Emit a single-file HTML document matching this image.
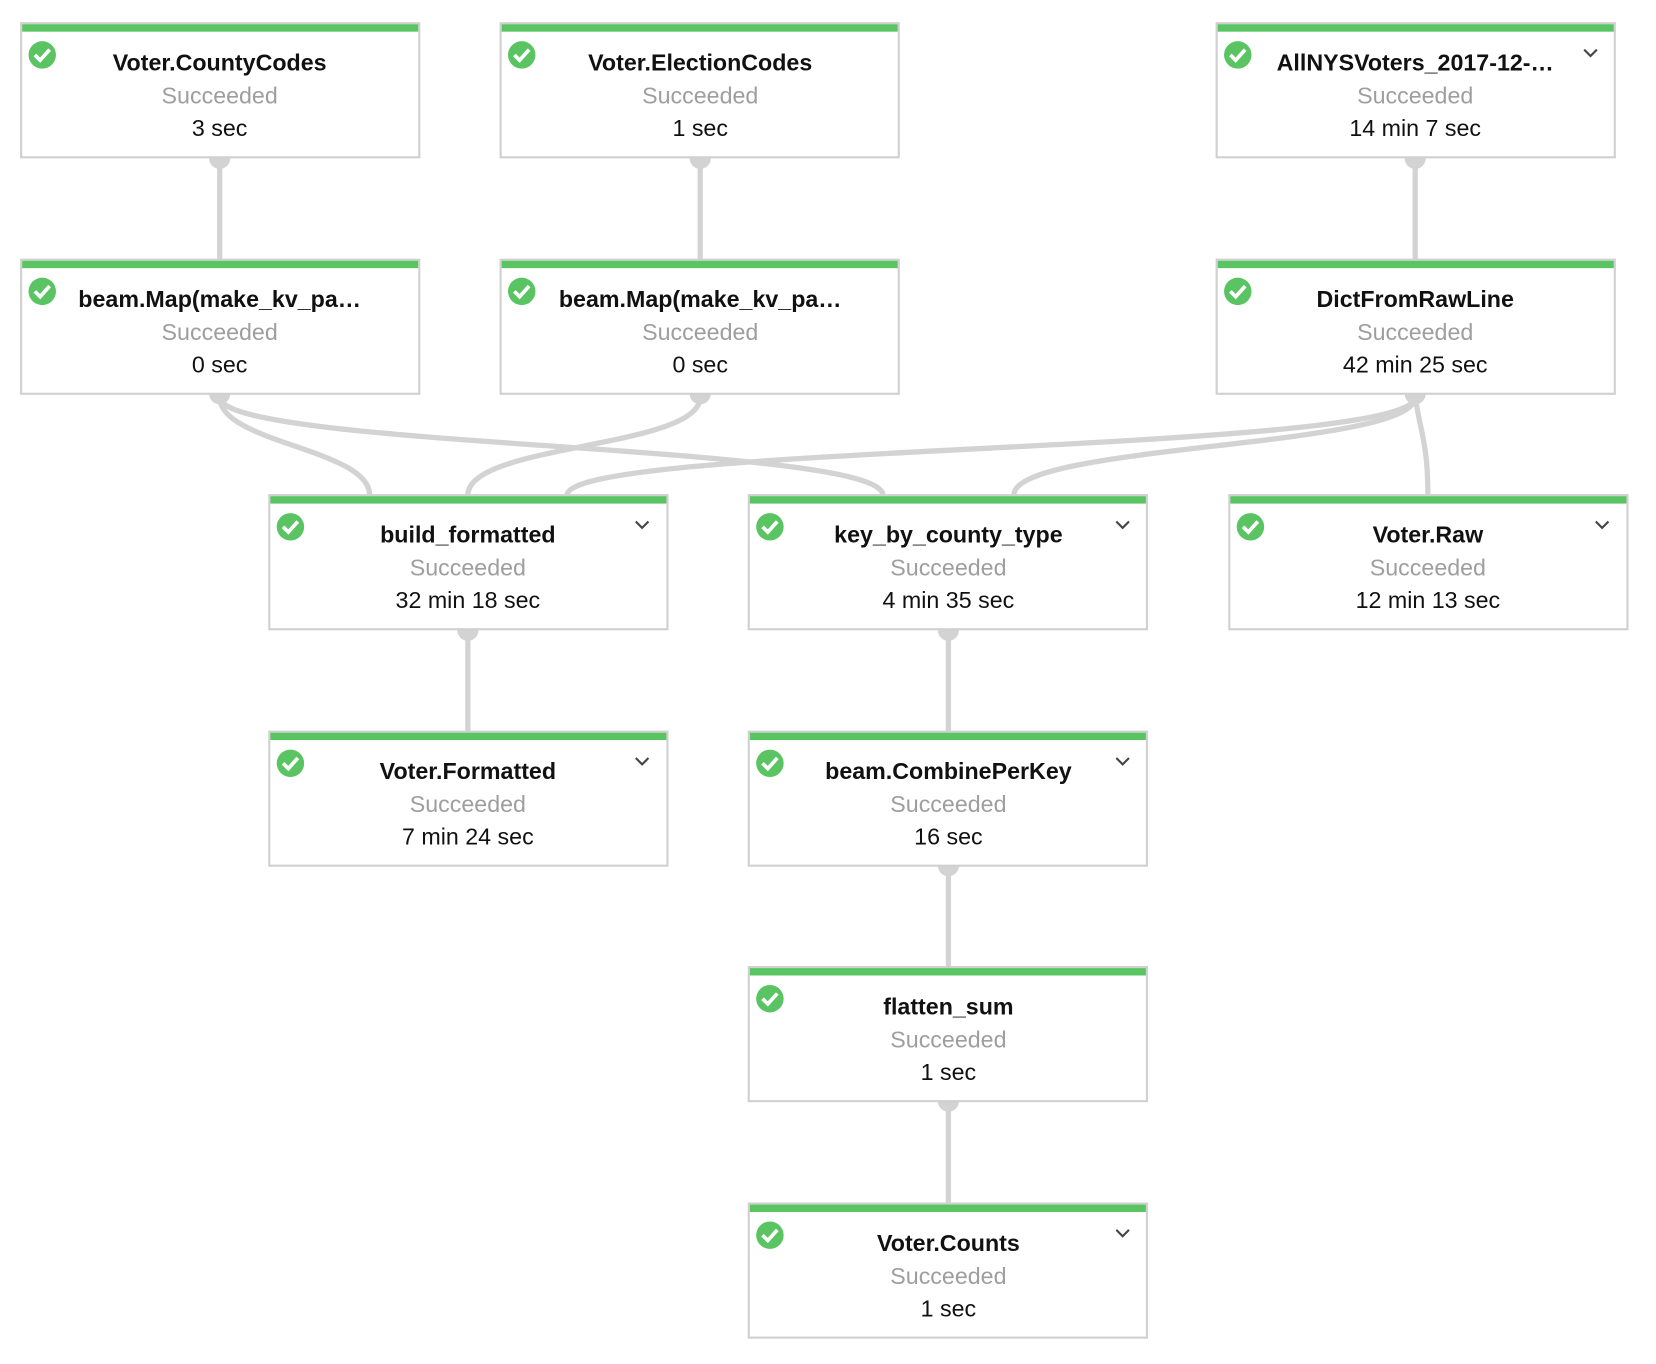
<!DOCTYPE html>
<html><head><meta charset="utf-8"><style>
html,body{margin:0;padding:0;background:#fff;}
svg{display:block;}
.t{font-family:"Liberation Sans",sans-serif;font-size:22px;text-anchor:middle;}
.h{font-weight:bold;fill:#111;}
.s{fill:#9e9e9e;}
.d{fill:#111;}
</style></head><body>
<svg width="1656" height="1364" viewBox="0 0 1568 1292" preserveAspectRatio="none" xmlns="http://www.w3.org/2000/svg">
<g stroke="#d3d3d3" stroke-width="5" fill="none">
<line x1="208" y1="150" x2="208" y2="246"/>
<line x1="663" y1="150" x2="663" y2="246"/>
<line x1="1340" y1="150" x2="1340" y2="246"/>
<line x1="443" y1="597" x2="443" y2="693"/>
<line x1="898" y1="597" x2="898" y2="693"/>
<line x1="898" y1="820" x2="898" y2="916"/>
<line x1="898" y1="1043" x2="898" y2="1140"/>
<path d="M208,376 C208,420 350,425 350,469"/>
<path d="M208,376 C208,425 836,420 836,469"/>
<path d="M663,376 C663,425 443,420 443,469"/>
<path d="M1340,376 C1340,430 537,420 537,469"/>
<path d="M1340,376 C1340,425 960,420 960,469"/>
<path d="M1340,376 C1345,410 1352,420 1352,469"/>
</g>
<g fill="#d3d3d3">
<circle cx="208" cy="150" r="10"/><circle cx="663" cy="150" r="10"/><circle cx="1340" cy="150" r="10"/>
<circle cx="208" cy="373" r="10"/><circle cx="663" cy="373" r="10"/><circle cx="1340" cy="373" r="10"/>
<circle cx="443" cy="597" r="10"/><circle cx="898" cy="597" r="10"/>
<circle cx="898" cy="820" r="10"/><circle cx="898" cy="1043" r="10"/>
</g>
<defs>
<g id="box">
<rect x="0" y="0" width="377" height="127" fill="#fff" stroke="#d0d0d0" stroke-width="2"/>
<rect x="1" y="1" width="375" height="7" fill="#5ac463"/>
<circle cx="20" cy="30" r="13" fill="#5ac463"/>
<path d="M13,30 l5,5 l9,-10" stroke="#fff" stroke-width="3.5" fill="none"/>
</g>
<path id="chev" d="M-6,-3 l6,6 l6,-6" stroke="#444" stroke-width="2" fill="none"/>
</defs>
<use href="#box" x="20" y="22"/><use href="#box" x="474" y="22"/><use href="#box" x="1152" y="22"/>
<use href="#box" x="20" y="246"/><use href="#box" x="474" y="246"/><use href="#box" x="1152" y="246"/>
<use href="#box" x="255" y="469"/><use href="#box" x="709" y="469"/><use href="#box" x="1164" y="469"/>
<use href="#box" x="255" y="693"/><use href="#box" x="709" y="693"/>
<use href="#box" x="709" y="916"/><use href="#box" x="709" y="1140"/>
<use href="#chev" x="1506" y="50"/>
<use href="#chev" x="608" y="497"/><use href="#chev" x="1063" y="497"/><use href="#chev" x="1517" y="497"/>
<use href="#chev" x="608" y="721"/><use href="#chev" x="1063" y="721"/><use href="#chev" x="1063" y="1168"/>
<g class="t">
<text class="t h" x="208" y="67">Voter.CountyCodes</text><text class="t s" x="208" y="98">Succeeded</text><text class="t d" x="208" y="129">3 sec</text>
<text class="t h" x="663" y="67">Voter.ElectionCodes</text><text class="t s" x="663" y="98">Succeeded</text><text class="t d" x="663" y="129">1 sec</text>
<text class="t h" x="1340" y="67">AllNYSVoters_2017-12-…</text><text class="t s" x="1340" y="98">Succeeded</text><text class="t d" x="1340" y="129">14 min 7 sec</text>
<text class="t h" x="208" y="291">beam.Map(make_kv_pa…</text><text class="t s" x="208" y="322">Succeeded</text><text class="t d" x="208" y="353">0 sec</text>
<text class="t h" x="663" y="291">beam.Map(make_kv_pa…</text><text class="t s" x="663" y="322">Succeeded</text><text class="t d" x="663" y="353">0 sec</text>
<text class="t h" x="1340" y="291">DictFromRawLine</text><text class="t s" x="1340" y="322">Succeeded</text><text class="t d" x="1340" y="353">42 min 25 sec</text>
<text class="t h" x="443" y="514">build_formatted</text><text class="t s" x="443" y="545">Succeeded</text><text class="t d" x="443" y="576">32 min 18 sec</text>
<text class="t h" x="898" y="514">key_by_county_type</text><text class="t s" x="898" y="545">Succeeded</text><text class="t d" x="898" y="576">4 min 35 sec</text>
<text class="t h" x="1352" y="514">Voter.Raw</text><text class="t s" x="1352" y="545">Succeeded</text><text class="t d" x="1352" y="576">12 min 13 sec</text>
<text class="t h" x="443" y="738">Voter.Formatted</text><text class="t s" x="443" y="769">Succeeded</text><text class="t d" x="443" y="800">7 min 24 sec</text>
<text class="t h" x="898" y="738">beam.CombinePerKey</text><text class="t s" x="898" y="769">Succeeded</text><text class="t d" x="898" y="800">16 sec</text>
<text class="t h" x="898" y="961">flatten_sum</text><text class="t s" x="898" y="992">Succeeded</text><text class="t d" x="898" y="1023">1 sec</text>
<text class="t h" x="898" y="1185">Voter.Counts</text><text class="t s" x="898" y="1216">Succeeded</text><text class="t d" x="898" y="1247">1 sec</text>
</g>
</svg>
</body></html>
